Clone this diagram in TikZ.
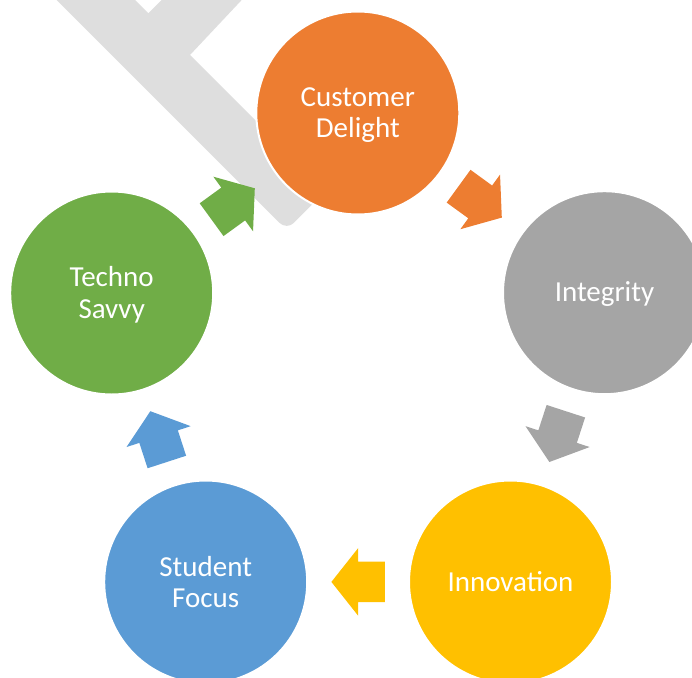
\documentclass[tikz,border=0pt]{standalone}
\usepackage{fontspec}
\setmainfont{Carlito}
\definecolor{cOrange}{HTML}{ED7D31}
\definecolor{cGray}{HTML}{A5A5A5}
\definecolor{cYellow}{HTML}{FFC000}
\definecolor{cBlue}{HTML}{5B9BD5}
\definecolor{cGreen}{HTML}{70AD47}
\definecolor{cMark}{HTML}{DEDEDE}
\tikzset{
  circ/.style={circle, minimum size=203pt, inner sep=0pt, draw=white, line width=2pt,
    text=white, align=center, font=\fontsize{29}{31.5}\selectfont},
  lbl/.style={text=white, align=center, font=\fontsize{29}{31.5}\selectfont, inner sep=0pt},
  blockarrow/.style={line width=0pt}
}
\newcommand\cyclearrow[3]{%
  \fill[blockarrow, #3, shift={(#1)}, rotate=#2]
    (-26.7,-20.25) -- (0,-20.25) -- (0,-33.75) -- (26.7,0) -- (0,33.75)
    -- (0,20.25) -- (-26.7,20.25) -- cycle;}
\begin{document}
\begin{tikzpicture}[x=1pt,y=-1pt]
\useasboundingbox (0,0) rectangle (692,677);
\clip (0,0) rectangle (692,677);
% watermark
\fill[cMark] (56.7,0) -- (135,0) -- (148.3,13.3) -- (161.6,0) -- (241.7,0)
  -- (190,55) [rounded corners=10pt] -- (325.85,190.85) -- (286.7,230)
  [sharp corners] -- cycle;
% arrows
\coordinate (a1) at (480.2,201.9);
\coordinate (a2) at (557.6,436.6);
\coordinate (a3) at (358.1,581.9);
\coordinate (a4) at (158.6,436.6);
\coordinate (a5) at (233.2,204.0);
\cyclearrow{a1}{-36}{cOrange}
\cyclearrow{a2}{-108}{cGray}
\cyclearrow{a3}{180}{cYellow}
\cyclearrow{a4}{108}{cBlue}
\cyclearrow{a5}{36}{cGreen}
% circles
\node[circ, fill=cOrange] (cd) at (357.8,113) {};
\node[circ, fill=cGray] (in) at (604.5,292.7) {};
\node[circ, fill=cYellow] (inn) at (510.5,582) {};
\node[circ, fill=cBlue] (sf) at (205.7,582) {};
\node[circ, fill=cGreen] (ts) at (111.7,293) {};
% labels
\node[lbl] (cdt) at ([yshift=-2pt]cd.center) {Customer\\Delight};
\node[lbl] (intt) at ([yshift=-1pt]in.center) {Integrity};
\node[lbl] (innt) at (inn.center) {Innovation};
\node[lbl] (sft) at (sf.center) {Student\\Focus};
\node[lbl] (tst) at ([yshift=-2pt]ts.center) {Techno\\Savvy};
\end{tikzpicture}
\end{document}
